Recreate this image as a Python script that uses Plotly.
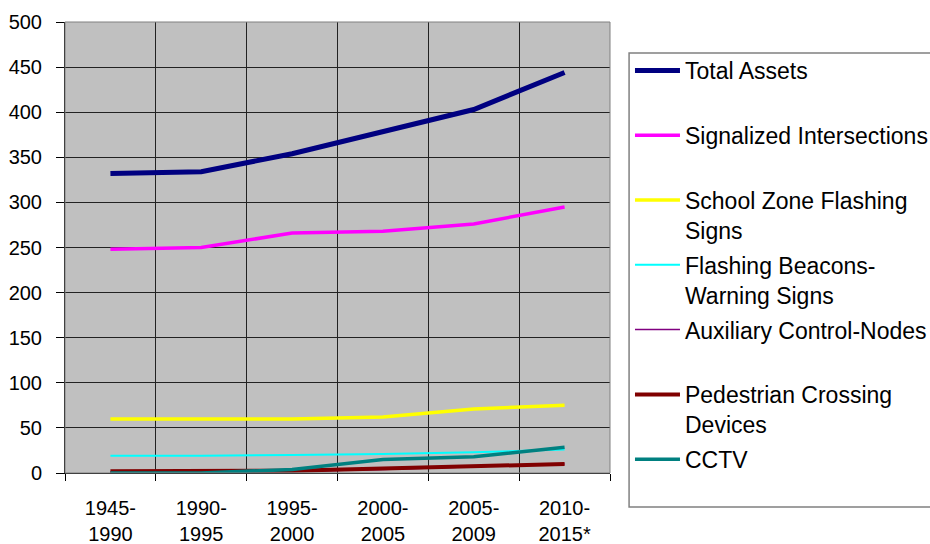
import plotly.graph_objects as go

periods = ["1945-<br>1990", "1990-<br>1995", "1995-<br>2000",
           "2000-<br>2005", "2005-<br>2009", "2010-<br>2015*"]

total_assets = [332, 334, 354, 378, 403, 444]
signalized = [248, 250, 266, 268, 276, 295]
school_zone = [60, 60, 60, 62, 71, 75]
flashing_beacons = [19, 19, 20, 21, 23, 26]
auxiliary = [1, 1, 2, 4, 7, 10]
pedestrian = [2, 2, 2.5, 5, 8, 10]
cctv = [0, 0, 4, 15, 18, 28.5]

series = [
    ("Total Assets<br> ", total_assets, "#000080", 5),
    ("Signalized Intersections<br> ", signalized, "#FF00FF", 3.5),
    ("School Zone Flashing<br>Signs", school_zone, "#FFFF00", 3.5),
    ("Flashing Beacons-<br>Warning Signs", flashing_beacons, "#00FFFF", 2),
    ("Auxiliary Control-Nodes<br> ", auxiliary, "#800080", 1.5),
    ("Pedestrian Crossing<br>Devices", pedestrian, "#800000", 4),
    ("CCTV<br> ", cctv, "#008080", 3.5),
]

fig = go.Figure()
for i, (name, vals, color, width) in enumerate(series):
    fig.add_trace(go.Scatter(x=periods, y=vals, name=name, mode="lines",
                             legendgroup=str(i),
                             line=dict(color=color, width=width)))

fig.update_layout(
    width=930, height=544,
    margin=dict(l=65, r=320, t=22, b=71),
    paper_bgcolor="white", plot_bgcolor="#C0C0C0",
    font=dict(family="Liberation Sans, Arial", size=20, color="black"),
    legend=dict(xref="container", yref="container",
                x=0.6774, xanchor="left", y=0.91, yanchor="top",
                bgcolor="rgba(0,0,0,0)", borderwidth=0,
                font=dict(size=23), valign="top", itemwidth=45,
                tracegroupgap=2, maxheight=1),
    showlegend=True,
)
fig.update_xaxes(type="category", range=[-0.5, 5.5], tickson="boundaries",
                 showgrid=True, automargin=False,
                 gridcolor="#222222", gridwidth=1, ticks="outside", ticklen=7,
                 tickcolor="black", showline=True, linecolor="black",
                 ticklabelstandoff=17)
fig.update_yaxes(range=[0, 500], dtick=50, showgrid=True, gridcolor="#222222",
                 gridwidth=1, ticks="outside", ticklen=8, tickcolor="black",
                 showline=True, linecolor="black", zeroline=False,
                 automargin=False, ticklabelstandoff=10)
# plot-area frame
fig.add_shape(type="rect", xref="paper", yref="paper", x0=0, x1=1, y0=0, y1=1,
              line=dict(color="#808080", width=1), layer="above")
# legend frame (runs past the right edge, as in the original)
fig.add_shape(type="rect", xref="paper", yref="paper",
              x0=1.035, x1=1.62, y0=-0.0754, y1=0.931,
              line=dict(color="#808080", width=1.5), fillcolor="white",
              layer="below")

# drop the default 8px page margin so the figure fills the window
fig.write_html("out.html", config={"displayModeBar": False},
               post_script="document.body.style.margin='0';"
                           "document.body.style.overflow='hidden';")
